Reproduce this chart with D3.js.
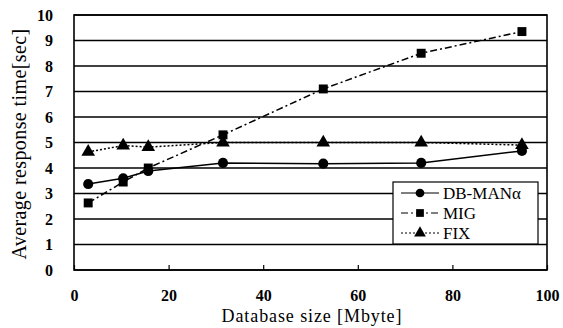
<!DOCTYPE html>
<html>
<head>
<meta charset="utf-8">
<script src="https://cdnjs.cloudflare.com/ajax/libs/d3/7.8.5/d3.min.js"></script>
<style>
  body { margin: 0; background: #fff; }
  text { font-family: "Liberation Serif", "Times New Roman", serif; fill: #000; }
</style>
</head>
<body>
<div id="chart"></div>
<script>
// values
const sizes = [3, 10.4, 15.7, 31.5, 52.7, 73.4, 94.7];
const dbman = [3.37, 3.6, 3.88, 4.2, 4.17, 4.2, 4.67];
const mig   = [2.63, 3.45, 4.0, 5.3, 7.1, 8.5, 9.35];
const fix   = [4.63, 4.88, 4.82, 5.0, 5.0, 5.0, 4.9];
const seriesNames = ["DB-MANα", "MIG", "FIX"];
const yTicks = [0, 1, 2, 3, 4, 5, 6, 7, 8, 9, 10];
const xTicks = [0, 20, 40, 60, 80, 100];

var width = 563, height = 328;
const margin = {top: 15, right: 16, bottom: 58, left: 74};

var svg = d3.select("#chart").append("svg")
    .attr("width", width)
    .attr("height", height);

let x = d3.scaleLinear().domain([0, 100]).range([margin.left, width - margin.right]);
let y = d3.scaleLinear().domain([0, 10]).range([height - margin.bottom, margin.top]);

// horizontal grid
svg.append("g")
  .selectAll("line")
  .data(yTicks)
  .enter().append("line")
  .attr("x1", x(0)).attr("x2", x(100))
  .attr("y1", d => y(d)).attr("y2", d => y(d))
  .attr("stroke", "#000")
  .attr("stroke-width", 1.6);

// plot frame
svg.append("rect")
  .attr("x", x(0)).attr("y", y(10))
  .attr("width", x(100) - x(0)).attr("height", y(0) - y(10))
  .attr("fill", "none").attr("stroke", "#000").attr("stroke-width", 1.6);

// axes
let xAxis = d3.axisBottom(x).tickValues(xTicks).tickSizeInner(-5).tickSizeOuter(0).tickPadding(20);
svg.append("g")
  .attr("transform", `translate(0,${y(0)})`)
  .call(xAxis)
  .call(g => g.select(".domain").remove())
  .call(g => g.selectAll(".tick line").attr("stroke", "#000").attr("stroke-width", 1.2))
  .call(g => g.selectAll("text").attr("font-size", 16).attr("font-weight", "bold")
      .style("font-family", "Liberation Serif"));

let yAxis = d3.axisLeft(y).tickValues(yTicks).tickSize(0).tickPadding(21);
svg.append("g")
  .attr("transform", `translate(${x(0)},0)`)
  .call(yAxis)
  .call(g => g.select(".domain").remove())
  .call(g => g.selectAll("text").attr("font-size", 16).attr("font-weight", "bold")
      .style("font-family", "Liberation Serif"));

// axis titles
svg.append("text")
  .attr("x", 312)
  .attr("y", 322)
  .attr("text-anchor", "middle")
  .attr("font-size", 18)
  .attr("letter-spacing", 0.9)
  .text("Database size [Mbyte]");

svg.append("text")
  .attr("transform", `translate(26,144) rotate(-90)`)
  .attr("text-anchor", "middle")
  .attr("font-size", 20)
  .attr("letter-spacing", 0.4)
  .text("Average response time[sec]");

const series = [
  {name: seriesNames[0], values: dbman, dash: null, sym: d3.symbolCircle},
  {name: seriesNames[1], values: mig, dash: "7,3,2,3", sym: d3.symbolSquare},
  {name: seriesNames[2], values: fix, dash: "2,2", sym: d3.symbolTriangle}
];

let line = d3.line().x((d, i) => x(sizes[i])).y(d => y(d));

series.forEach(s => {
  svg.append("path")
    .datum(s.values)
    .attr("d", line)
    .attr("fill", "none")
    .attr("stroke", "#000")
    .attr("stroke-width", 1.5)
    .attr("stroke-dasharray", s.dash);

  svg.selectAll(null)
    .data(s.values)
    .enter().append("path")
    .attr("transform", (d, i) => `translate(${x(sizes[i])},${y(d)})`)
    .attr("d", d3.symbol().type(s.sym).size(80))
    .attr("fill", "#000");
});

// legend
let lg = svg.append("g").attr("transform", "translate(393,182)");
lg.append("rect")
  .attr("width", 145).attr("height", 62)
  .attr("fill", "#fff").attr("stroke", "#000").attr("stroke-width", 1.2);

series.forEach((s, i) => {
  let yy = 11 + i * 20;
  lg.append("line")
    .attr("x1", 8).attr("x2", 46)
    .attr("y1", yy).attr("y2", yy)
    .attr("stroke", "#000").attr("stroke-width", 1.2)
    .attr("stroke-dasharray", s.dash);
  lg.append("path")
    .attr("transform", `translate(27,${yy})`)
    .attr("d", d3.symbol().type(s.sym).size(60))
    .attr("fill", "#000");
  lg.append("text")
    .attr("x", 50).attr("y", yy + 6)
    .attr("font-size", 17)
    .text(s.name);
});
</script>
</body>
</html>
